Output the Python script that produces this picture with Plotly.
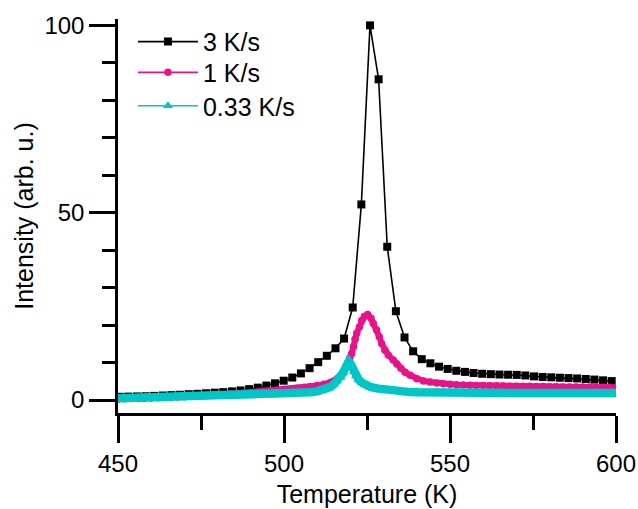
import plotly.graph_objects as go

# Heating rate 3 K/s
temp_3 = [450.5, 453.1, 455.7, 458.3, 460.9, 463.5, 466.1, 468.7, 471.3, 473.9,
          476.5, 479.1, 481.7, 484.3, 486.9, 489.5, 492.1, 494.7, 497.3, 499.9,
          502.5, 505.1, 507.7, 510.3, 512.9, 515.5, 518.1, 520.7, 523.3, 525.9,
          528.5, 531.1, 533.7, 536.3, 538.9, 541.5, 544.1, 546.7, 549.3, 551.9,
          554.5, 557.1, 559.7, 562.3, 564.9, 567.5, 570.1, 572.7, 575.3, 577.9,
          580.5, 583.1, 585.7, 588.3, 590.9, 593.5, 596.1, 598.7]
int_3 = [0.85, 0.9, 0.95, 1.0, 1.1, 1.2, 1.3, 1.4, 1.55, 1.65,
         1.8, 1.95, 2.1, 2.3, 2.55, 2.9, 3.3, 3.85, 4.45, 5.15,
         6.0, 7.1, 8.5, 10.1, 11.8, 13.8, 16.4, 24.7, 52.2, 100.0,
         85.6, 40.9, 23.7, 16.7, 13.0, 10.9, 9.8, 8.9, 8.3, 7.8,
         7.5, 7.2, 7.0, 6.9, 6.8, 6.75, 6.7, 6.55, 6.3, 6.15,
         6.05, 5.95, 5.85, 5.75, 5.6, 5.45, 5.25, 5.05]

# Heating rate 1 K/s
temp_1 = [450, 452, 454, 456, 458, 460, 462, 464, 466, 468, 470, 472, 474, 476,
          478, 480, 482, 484, 486, 488, 490, 492, 494, 496, 498, 500, 502, 504,
          506, 508, 510, 512, 514, 515, 516, 517, 517.8, 518.5, 519.2, 519.8,
          520.4, 520.9, 521.4, 521.9, 522.7, 523.4, 524.2, 525.2, 526.2, 526.9,
          527.9, 528.7, 529.4, 530.4, 531.4, 532.9, 534.0, 535.2, 536.5, 538,
          540, 542, 544, 546, 548, 550, 552, 554, 556, 558, 560, 562, 564, 566,
          568, 570, 572, 574, 576, 578, 580, 582, 584, 586, 588, 590, 592, 594,
          596, 598, 600]
int_1 = [0.3, 0.35, 0.4, 0.45, 0.5, 0.55, 0.6, 0.65, 0.75, 0.8, 0.9, 1.0, 1.05, 1.15,
         1.25, 1.35, 1.5, 1.6, 1.75, 1.9, 2.0, 2.15, 2.3, 2.45, 2.6, 2.8, 2.95, 3.15,
         3.35, 3.6, 3.85, 4.2, 4.7, 5.1, 5.7, 6.5, 7.5, 8.6, 9.9, 11.2,
         12.4, 14.2, 16.2, 17.8, 19.5, 21.2, 22.3, 22.8, 21.8, 20.4,
         18.7, 16.9, 15.1, 13.3, 12.0, 10.7, 9.6, 8.5, 7.4, 6.6,
         5.7, 5.1, 4.8, 4.55, 4.35, 4.2, 4.1, 4.0, 3.95, 3.9, 3.85, 3.8, 3.8, 3.75,
         3.7, 3.7, 3.65, 3.65, 3.6, 3.6, 3.55, 3.55, 3.5, 3.5, 3.5, 3.45, 3.45, 3.4,
         3.4, 3.4, 3.35]

# Heating rate 0.33 K/s
temp_033 = [450, 452, 454, 456, 458, 460, 462, 464, 466, 468, 470, 472, 474, 476,
            478, 480, 482, 484, 486, 488, 490, 492, 494, 496, 498, 500, 502, 504,
            506, 508, 510, 511.5, 513, 514, 515, 516, 517, 517.8, 518.5, 519,
            519.5, 520, 520.5, 521, 521.7, 522.5, 523.5, 524.5, 526, 528, 530,
            532, 534, 536, 538, 540, 542, 544, 546, 548, 550, 552, 554, 556, 558,
            560, 562, 564, 566, 568, 570, 572, 574, 576, 578, 580, 582, 584, 586,
            588, 590, 592, 594, 596, 598, 600]
int_033 = [0.45, 0.5, 0.5, 0.55, 0.55, 0.6, 0.6, 0.65, 0.65, 0.7, 0.7, 0.75, 0.8, 0.8,
           0.85, 0.9, 0.95, 1.0, 1.0, 1.05, 1.1, 1.15, 1.2, 1.3, 1.35, 1.45, 1.55, 1.7,
           1.85, 2.05, 2.3, 2.6, 3.0, 3.5, 4.2, 5.0, 6.0, 7.2, 8.6, 9.7,
           10.3, 9.8, 8.7, 7.6, 6.4, 5.4, 4.6, 4.0, 3.5, 3.1, 2.8,
           2.5, 2.3, 2.2, 2.1, 2.05, 2.0, 2.0, 2.0, 2.0, 1.95, 1.95, 1.95, 1.95, 1.95,
           1.95, 1.95, 1.9, 1.9, 1.9, 1.9, 1.9, 1.9, 1.9, 1.9, 1.9, 1.9, 1.9, 1.9,
           1.9, 1.9, 1.9, 1.9, 1.9, 1.9, 1.9]

x_ticks = [450, 500, 550, 600]
y_ticks = [0, 50, 100]

BLACK = "#000000"
PINK = "#E8128A"
CYAN = "#00C6C8"
FONT = "Arial, Liberation Sans, sans-serif"

fig = go.Figure()

# 3 K/s: sparse squares joined by a thin line
fig.add_trace(go.Scatter(
    x=temp_3, y=int_3, name="3 K/s", mode="lines+markers",
    line=dict(color=BLACK, width=1.6),
    marker=dict(symbol="square", size=8, color=BLACK),
    legend="legend",
))

# 1 K/s: dense circles merge into a band
fig.add_trace(go.Scatter(
    x=temp_1, y=int_1, mode="lines", showlegend=False, hoverinfo="skip",
    line=dict(color=PINK, width=6),
))
fig.add_trace(go.Scatter(
    x=temp_1, y=int_1, name="1 K/s", mode="lines+markers",
    line=dict(color=PINK, width=1.6),
    marker=dict(symbol="circle", size=7.5, color=PINK),
    legend="legend2",
))

# 0.33 K/s: dense triangles merge into a wider band
fig.add_trace(go.Scatter(
    x=temp_033, y=int_033, mode="lines", showlegend=False, hoverinfo="skip",
    line=dict(color=CYAN, width=8.5),
))
fig.add_trace(go.Scatter(
    x=temp_033, y=int_033, name="0.33 K/s", mode="lines+markers",
    line=dict(color=CYAN, width=1.6),
    marker=dict(symbol="triangle-up", size=9, color=CYAN),
    legend="legend3",
))

axis_common = dict(
    showline=True, linecolor="black", linewidth=2.5,
    ticks="outside", tickcolor="black", tickwidth=2.5,
    showgrid=False, zeroline=False, mirror=False, automargin=False,
    tickfont=dict(family=FONT, size=24, color="black"),
)

fig.update_xaxes(
    range=[450, 600], tickvals=x_ticks, ticklen=27,
    minor=dict(dtick=25, tick0=450, ticks="outside", ticklen=14,
               tickwidth=2.5, tickcolor="black"),
    title=dict(text="Temperature (K)", font=dict(family=FONT, size=25, color="black"),
               standoff=10),
    **axis_common,
)
fig.update_yaxes(
    range=[-3.47, 101.7], tickvals=y_ticks, ticklen=26,
    minor=dict(dtick=10, tick0=0, ticks="outside", ticklen=13,
               tickwidth=2.5, tickcolor="black"),
    title=dict(text="Intensity (arb. u.)", font=dict(family=FONT, size=25, color="black"),
               standoff=4),
    **axis_common,
)

legend_common = dict(
    x=0.03, xanchor="left", yanchor="middle",
    bgcolor="rgba(0,0,0,0)", borderwidth=0,
    font=dict(family=FONT, size=25, color="black"),
    itemwidth=60,
)

fig.update_layout(
    width=638, height=509,
    margin=dict(l=118, r=22, t=19, b=96, autoexpand=False),
    paper_bgcolor="white", plot_bgcolor="white",
    showlegend=True,
    legend=dict(y=0.942, **legend_common),
    legend2=dict(y=0.864, **legend_common),
    legend3=dict(y=0.779, **legend_common),
)

fig.write_html("out.html")
